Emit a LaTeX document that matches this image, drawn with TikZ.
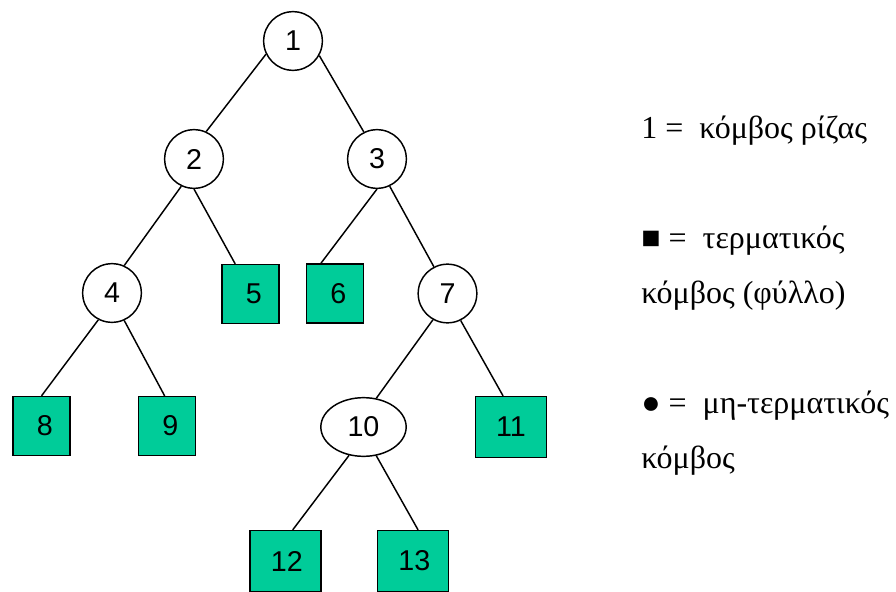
\documentclass[tikz,border=0pt]{standalone}
\usepackage{fontspec}
\setmainfont{Liberation Serif}
\newfontfamily\arialf{Liberation Sans}
\usetikzlibrary{shapes.geometric,calc}
\definecolor{leafgreen}{RGB}{0,204,153}
\begin{document}
\begin{tikzpicture}[x=0.75pt,y=-0.75pt,
  digitfont/.style={font=\arialf\fontsize{21.5}{25}\selectfont},
  nonleaf/.style={circle,draw,line width=1.1pt,minimum size=44pt,inner sep=0pt,fill=white,digitfont},
  ovalnode/.style={ellipse,draw,line width=1.1pt,minimum width=64pt,minimum height=44pt,inner sep=0pt,fill=white,digitfont},
  leafbox/.style={rectangle,draw,line width=1.2pt,fill=leafgreen,minimum width=43pt,minimum height=44pt,inner sep=0pt,digitfont},
  leafwide/.style={leafbox,minimum width=53pt,minimum height=45.5pt},
  branch/.style={line width=1.1pt},
  legendtxt/.style={anchor=base west,inner sep=0pt,font=\fontsize{24}{28}\selectfont}]
\useasboundingbox (0,0) rectangle (896,592);
% nodes
\node[nonleaf] (n1) at (293,41) {1};
\node[nonleaf] (n2) at (194,159) {2};
\node[nonleaf] (n3) at (377,159) {3};
\node[nonleaf] (n4) at (112,293) {4};
\node[leafbox] (n5) at (250.5,294) {\kern5pt 5};
\node[leafbox] (n6) at (335,293.5) {\kern5pt 6};
\node[nonleaf] (n7) at (447.5,293.5) {7};
\node[leafbox] (n8) at (41.5,426) {\kern5pt 8};
\node[leafbox] (n9) at (167,426) {\kern5pt 9};
\node[ovalnode] (n10) at (363.5,427) {10};
\node[leafwide] (n11) at (511,427) {11};
\node[leafwide] (n12) at (285.5,561) {\kern2pt 12};
\node[leafwide] (n13) at (413,561) {\kern2pt 13};
% edges
\draw[branch] (n1.-154) -- (n2.66);
\draw[branch] (n1.-29) -- (n3.116);
\draw[branch] (n2.-115) -- (n4.66);
\draw[branch] (n2.south) -- ($(n5.north west)!0.24!(n5.north east)$);
\draw[branch] (n3.south) -- ($(n6.north west)!0.26!(n6.north east)$);
\draw[branch] (n3.-65) -- (n7.117);
\draw[branch] (n4.-117) -- (n8.north);
\draw[branch] (n4.-66) -- ($(n9.north west)!0.46!(n9.north east)$);
\draw[branch] (n7.-119) -- (n10.66);
\draw[branch] (n7.-64) -- ($(n11.north west)!0.39!(n11.north east)$);
\draw[branch] (n10.-117) -- ($(n12.north west)!0.6!(n12.north east)$);
\draw[branch] (n10.-66) -- ($(n13.north west)!0.57!(n13.north east)$);
% legend
\node[legendtxt] (l1) at (641,138) {1 =~~κόμβος ρίζας};
\node[legendtxt] (l2) at (641,248) {■ =~~τερματικός};
\node[legendtxt] (l3) at (641,303) {κόμβος (φύλλο)};
\node[legendtxt] (l4) at (641,413) {● =~~μη-τερματικός};
\node[legendtxt] (l5) at (641,468) {κόμβος};
\end{tikzpicture}
\end{document}
